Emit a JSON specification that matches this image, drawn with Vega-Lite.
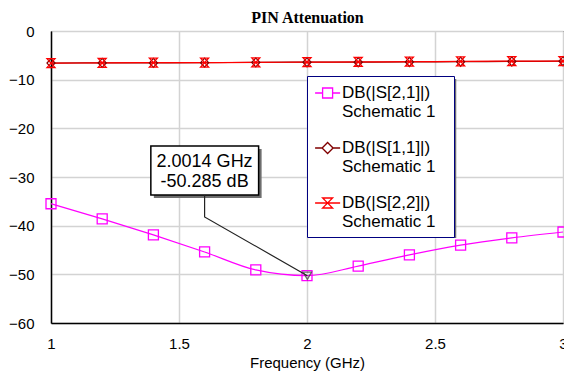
{
  "$schema": "https://vega.github.io/schema/vega-lite/v6.json",
  "width": 512,
  "height": 292,
  "autosize": "none",
  "padding": {"left": 51, "top": 31, "right": 1, "bottom": 53},
  "background": "white",
  "config": {
    "view": {"stroke": "black", "strokeWidth": 1},
    "axis": {"labelFont": "Liberation Sans", "labelFontSize": 15, "labelColor": "black", "titleFont": "Liberation Sans", "titleFontSize": 15, "titleFontWeight": "normal", "titleColor": "black", "ticks": false, "domainColor": "black", "domainWidth": 1.5, "gridColor": "#d3d3d3", "gridWidth": 1.5},
    "legend": {"labelFont": "Liberation Sans", "labelFontSize": 17, "labelColor": "black", "labelLimit": 300}
  },
  "resolve": {"scale": {"color": "independent", "shape": "independent"}},
  "datasets": {
    "traces": [
      {"freq": 1.0, "db": -35.5, "trace": "DB(|S[2,1]|)"},
      {"freq": 1.2, "db": -38.6, "trace": "DB(|S[2,1]|)"},
      {"freq": 1.4, "db": -41.9, "trace": "DB(|S[2,1]|)"},
      {"freq": 1.6, "db": -45.4, "trace": "DB(|S[2,1]|)"},
      {"freq": 1.8, "db": -49.1, "trace": "DB(|S[2,1]|)"},
      {"freq": 2.0, "db": -50.28, "trace": "DB(|S[2,1]|)"},
      {"freq": 2.2, "db": -48.3, "trace": "DB(|S[2,1]|)"},
      {"freq": 2.4, "db": -46.0, "trace": "DB(|S[2,1]|)"},
      {"freq": 2.6, "db": -44.0, "trace": "DB(|S[2,1]|)"},
      {"freq": 2.8, "db": -42.5, "trace": "DB(|S[2,1]|)"},
      {"freq": 3.0, "db": -41.3, "trace": "DB(|S[2,1]|)"},
      {"freq": 1.0, "db": -6.6, "trace": "DB(|S[1,1]|)"},
      {"freq": 1.2, "db": -6.55, "trace": "DB(|S[1,1]|)"},
      {"freq": 1.4, "db": -6.55, "trace": "DB(|S[1,1]|)"},
      {"freq": 1.6, "db": -6.5, "trace": "DB(|S[1,1]|)"},
      {"freq": 1.8, "db": -6.45, "trace": "DB(|S[1,1]|)"},
      {"freq": 2.0, "db": -6.4, "trace": "DB(|S[1,1]|)"},
      {"freq": 2.2, "db": -6.4, "trace": "DB(|S[1,1]|)"},
      {"freq": 2.4, "db": -6.35, "trace": "DB(|S[1,1]|)"},
      {"freq": 2.6, "db": -6.3, "trace": "DB(|S[1,1]|)"},
      {"freq": 2.8, "db": -6.25, "trace": "DB(|S[1,1]|)"},
      {"freq": 3.0, "db": -6.2, "trace": "DB(|S[1,1]|)"},
      {"freq": 1.0, "db": -6.6, "trace": "DB(|S[2,2]|)"},
      {"freq": 1.2, "db": -6.55, "trace": "DB(|S[2,2]|)"},
      {"freq": 1.4, "db": -6.5, "trace": "DB(|S[2,2]|)"},
      {"freq": 1.6, "db": -6.5, "trace": "DB(|S[2,2]|)"},
      {"freq": 1.8, "db": -6.45, "trace": "DB(|S[2,2]|)"},
      {"freq": 2.0, "db": -6.4, "trace": "DB(|S[2,2]|)"},
      {"freq": 2.2, "db": -6.35, "trace": "DB(|S[2,2]|)"},
      {"freq": 2.4, "db": -6.3, "trace": "DB(|S[2,2]|)"},
      {"freq": 2.6, "db": -6.25, "trace": "DB(|S[2,2]|)"},
      {"freq": 2.8, "db": -6.2, "trace": "DB(|S[2,2]|)"},
      {"freq": 3.0, "db": -6.2, "trace": "DB(|S[2,2]|)"}
    ],
    "boxes": [
      {"kind": "legendShadow", "freq": 2.0097, "freq2": 2.583, "db": -9.86, "db2": -42.53},
      {"kind": "callout", "freq": 1.39, "freq2": 1.811, "db": -23.63, "db2": -33.7}
    ],
    "leader": [
      {"i": 0, "freq": 1.6, "db": -33.7},
      {"i": 1, "freq": 1.6, "db": -38.2},
      {"i": 2, "freq": 2.0014, "db": -50.285}
    ],
    "marker": [
      {"freq": 2.0014, "db": -50.285}
    ],
    "calloutText": [
      {"line": "2.0014 GHz", "freq": 1.6, "db": -26.92},
      {"line": "-50.285 dB", "freq": 1.6, "db": -31.03}
    ]
  },
  "layer": [
    {
      "data": {"name": "boxes"},
      "transform": [{"filter": "datum.kind == 'legendShadow'"}],
      "mark": {"type": "rect", "fill": "#6e6e6e"},
      "encoding": {
        "x": {"field": "freq", "type": "quantitative", "scale": {"domain": [1, 3], "nice": false, "zero": false}, "axis": {"values": [1, 1.5, 2, 2.5, 3], "format": "~g", "title": "Frequency (GHz)", "labelPadding": 13, "titlePadding": 4, "labelFlush": false, "labelOverlap": false}},
        "x2": {"field": "freq2"},
        "y": {"field": "db", "type": "quantitative", "scale": {"domain": [-60, 0], "nice": false, "zero": false}, "axis": {"values": [-60, -50, -40, -30, -20, -10, 0], "labelPadding": 17, "labelFlush": false, "title": "PIN Attenuation", "titleAngle": 0, "titleX": 256, "titleY": -9, "titleAlign": "center", "titleBaseline": "alphabetic", "titleFont": "Liberation Serif", "titleFontSize": 16, "titleFontWeight": "bold", "titleColor": "black"}},
        "y2": {"field": "db2"}
      }
    },
    {
      "data": {"name": "traces"},
      "mark": {"type": "line", "interpolate": "monotone", "strokeWidth": 1.2},
      "encoding": {
        "x": {"field": "freq", "type": "quantitative"},
        "y": {"field": "db", "type": "quantitative"},
        "color": {"field": "trace", "type": "nominal", "legend": null, "scale": {"domain": ["DB(|S[2,1]|)", "DB(|S[1,1]|)", "DB(|S[2,2]|)"], "range": ["#ff00ff", "#800000", "#ff0000"]}}
      }
    },
    {
      "data": {"name": "traces"},
      "mark": {"type": "point", "filled": false, "strokeWidth": 1.3, "size": 100, "opacity": 1},
      "encoding": {
        "x": {"field": "freq", "type": "quantitative"},
        "y": {"field": "db", "type": "quantitative"},
        "color": {"field": "trace", "type": "nominal", "legend": null, "scale": {"domain": ["DB(|S[2,1]|)", "DB(|S[1,1]|)", "DB(|S[2,2]|)"], "range": ["#ff00ff", "#800000", "#ff0000"]}},
        "shape": {"field": "trace", "type": "nominal", "legend": null, "scale": {"domain": ["DB(|S[2,1]|)", "DB(|S[1,1]|)", "DB(|S[2,2]|)"], "range": ["square", "M0,-0.9L0.8,0L0,0.9L-0.8,0Z", "M-0.8,-0.9H0.8L-0.8,0.9H0.8Z"]}}
      }
    },
    {
      "data": {"name": "traces"},
      "mark": {"type": "point", "filled": false, "strokeWidth": 1.3, "size": 324, "opacity": 0},
      "encoding": {
        "x": {"field": "freq", "type": "quantitative"},
        "y": {"field": "db", "type": "quantitative"},
        "color": {"field": "trace", "type": "nominal", "scale": {"domain": ["DB(|S[2,1]|)", "DB(|S[1,1]|)", "DB(|S[2,2]|)"], "range": ["#ff00ff", "#800000", "#ff0000"]}, "legend": {
          "orient": "none", "legendX": 256, "legendY": 45, "padding": 7, "rowPadding": 18,
          "symbolSize": 324, "symbolOffset": 3.6, "labelOffset": 4.4, "symbolStrokeWidth": 1.3, "symbolOpacity": 1,
          "fillColor": "white", "strokeColor": "#000080",
          "title": ".", "titleOrient": "right", "titleFontSize": 10, "titlePadding": 8, "titleOpacity": 0, "titleColor": "white",
          "labelExpr": "[datum.label, 'Schematic 1']",
          "encode": {
            "labels": {"update": {"lineHeight": {"value": 21}}},
            "legend": {"update": {"strokeDash": {"value": [6, 3]}, "strokeWidth": {"value": 1.5}}}
          }
        }},
        "shape": {"field": "trace", "type": "nominal", "scale": {"domain": ["DB(|S[2,1]|)", "DB(|S[1,1]|)", "DB(|S[2,2]|)"], "range": ["M-1.39,0H-0.556M0.556,0H1.39M-0.556,-0.556H0.556V0.556H-0.556Z", "M-1.39,0H-0.61L0,-0.61L0.61,0H1.39M0.61,0L0,0.61L-0.61,0", "M-1.39,0H1.39M-0.556,-0.556H0.556L-0.556,0.556H0.556Z"]}}
      }
    },
    {
      "data": {"name": "boxes"},
      "transform": [{"filter": "datum.kind == 'callout'"}],
      "mark": {"type": "rect", "fill": "#6e6e6e", "xOffset": 3, "x2Offset": 3, "yOffset": 3, "y2Offset": 3},
      "encoding": {
        "x": {"field": "freq", "type": "quantitative"},
        "x2": {"field": "freq2"},
        "y": {"field": "db", "type": "quantitative"},
        "y2": {"field": "db2"}
      }
    },
    {
      "data": {"name": "boxes"},
      "transform": [{"filter": "datum.kind == 'callout'"}],
      "mark": {"type": "rect", "fill": "white", "stroke": "black", "strokeWidth": 1.5},
      "encoding": {
        "x": {"field": "freq", "type": "quantitative"},
        "x2": {"field": "freq2"},
        "y": {"field": "db", "type": "quantitative"},
        "y2": {"field": "db2"}
      }
    },
    {
      "data": {"name": "leader"},
      "mark": {"type": "line", "color": "#222222", "strokeWidth": 1.2},
      "encoding": {
        "x": {"field": "freq", "type": "quantitative"},
        "y": {"field": "db", "type": "quantitative"},
        "order": {"field": "i"}
      }
    },
    {
      "data": {"name": "marker"},
      "mark": {"type": "point", "shape": "triangle-down", "filled": false, "stroke": "#333333", "strokeWidth": 1.3, "size": 70},
      "encoding": {
        "x": {"field": "freq", "type": "quantitative"},
        "y": {"field": "db", "type": "quantitative"}
      }
    },
    {
      "data": {"name": "calloutText"},
      "mark": {"type": "text", "font": "Liberation Sans", "fontSize": 18, "color": "black", "align": "center", "baseline": "middle"},
      "encoding": {
        "x": {"field": "freq", "type": "quantitative"},
        "y": {"field": "db", "type": "quantitative"},
        "text": {"field": "line"}
      }
    }
  ]
}
